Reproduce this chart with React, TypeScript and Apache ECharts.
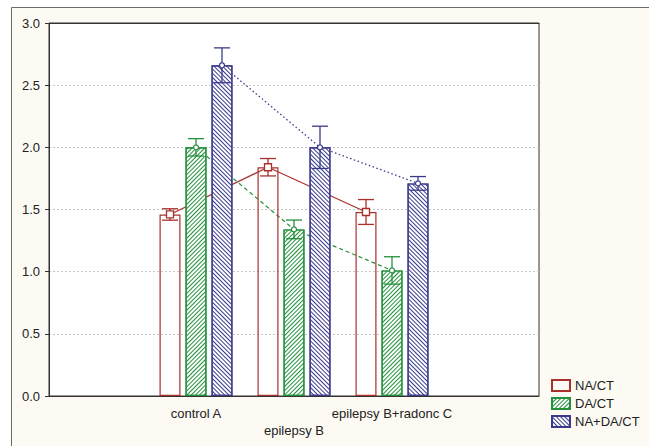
import React, { useEffect, useRef } from "react";
import * as echarts from "echarts";

const categories = ["", "control A", "epilepsy B", "epilepsy B+radonc C", ""];
const seriesNames = ["NA/CT", "DA/CT", "NA+DA/CT"];
const naMeans = [null, 1.46, 1.84, 1.48, null];
const naErrs = [null, 0.046, 0.07, 0.1, null];
const daMeans = [null, 2.0, 1.34, 1.01, null];
const daErrs = [null, 0.07, 0.075, 0.11, null];
const nadaMeans = [null, 2.66, 2.0, 1.71, null];
const nadaErrs = [null, 0.14, 0.17, 0.055, null];
const yTicks = [0, 0.5, 1.0, 1.5, 2.0, 2.5, 3.0];

const COLORS = ["#a8312c", "#23903c", "#3a3a8c"];
const BAR_W = 21;
const BAR_GAP = 5;
const FONT = "'Liberation Sans', Arial, sans-serif";

export default function App() {
  const ref = useRef<HTMLDivElement>(null);
  useEffect(() => {
    if (!ref.current) return;
    const chart = echarts.init(ref.current, null, { renderer: "svg" });
    const means = [naMeans, daMeans, nadaMeans];
    const errs = [naErrs, daErrs, nadaErrs];

    const barSeries = means.map((m, s) => ({
      type: "bar",
      name: seriesNames[s],
      data: m.map((v) => (v == null ? "-" : v)),
      barWidth: BAR_W,
      barGap: (BAR_GAP / BAR_W) * 100 + "%",
      z: 3,
      itemStyle:
        s === 0
          ? { color: "rgba(255,255,255,0)", borderColor: COLORS[0], borderWidth: 1.2 }
          : {
              color: "#ffffff",
              borderColor: COLORS[s],
              borderWidth: 1.2,
              decal: {
                symbol: "rect",
                symbolSize: 1,
                color: COLORS[s],
                dashArrayX: [1, 0],
                dashArrayY: [1, 1.5],
                rotation: s === 1 ? -Math.PI / 4 : Math.PI / 4,
              },
            },
    }));

    const lineStyles = [
      { lineDash: null, lineWidth: 1.2 },
      { lineDash: [4, 3], lineWidth: 1.2 },
      { lineDash: [1.5, 2.5], lineWidth: 1.3 },
    ];

    const lineSeries = means.map((m, s) => {
      const data: any[] = [];
      for (let i = 0; i < m.length - 1; i++) {
        if (m[i] != null && m[i + 1] != null) data.push([i, m[i], i + 1, m[i + 1]]);
      }
      return {
        type: "custom",
        name: seriesNames[s] + " line",
        z: 1,
        silent: true,
        clip: false,
        data,
        renderItem: (params: any, api: any) => {
          const off = (s - 1) * (BAR_W + BAR_GAP);
          const p1 = api.coord([api.value(0), api.value(1)]);
          const p2 = api.coord([api.value(2), api.value(3)]);
          return {
            type: "line",
            shape: { x1: p1[0] + off, y1: p1[1], x2: p2[0] + off, y2: p2[1] },
            style: {
              stroke: COLORS[s],
              lineWidth: lineStyles[s].lineWidth,
              lineDash: lineStyles[s].lineDash,
              fill: null,
            },
          };
        },
      };
    });

    const errSeries = means.map((m, s) => {
      const data: any[] = [];
      m.forEach((v, i) => {
        if (v != null) data.push([i, v, errs[s][i]]);
      });
      return {
        type: "custom",
        name: seriesNames[s] + " err",
        z: 5,
        silent: true,
        clip: false,
        data,
        renderItem: (params: any, api: any) => {
          const off = (s - 1) * (BAR_W + BAR_GAP);
          const cat = api.value(0);
          const mean = api.value(1);
          const err = api.value(2);
          const c = api.coord([cat, mean]);
          const x = c[0] + off;
          const yt = api.coord([cat, mean + err])[1];
          const yb = api.coord([cat, mean - err])[1];
          const hw = 8;
          const st = { stroke: COLORS[s], lineWidth: 1.3 };
          const children: any[] = [
            { type: "line", shape: { x1: x, y1: yt, x2: x, y2: yb }, style: st },
            { type: "line", shape: { x1: x - hw, y1: yt, x2: x + hw, y2: yt }, style: st },
            { type: "line", shape: { x1: x - hw, y1: yb, x2: x + hw, y2: yb }, style: st },
          ];
          if (s === 0) {
            children.push({
              type: "rect",
              shape: { x: x - 3.5, y: c[1] - 3.5, width: 7, height: 7 },
              style: { fill: "#fff", stroke: COLORS[s], lineWidth: 1.3 },
            });
          } else {
            children.push({
              type: "circle",
              shape: { cx: x, cy: c[1], r: 2.5 },
              style: { fill: "#fff", stroke: COLORS[s], lineWidth: 1.2 },
            });
          }
          return { type: "group", children };
        },
      };
    });

    chart.setOption({
      animation: false,
      backgroundColor: "#ffffff",
      textStyle: { fontFamily: FONT },
      graphic: [
        {
          type: "rect",
          z: -10,
          silent: true,
          shape: { x: 11.5, y: 7.5, width: 700, height: 500 },
          style: { fill: "#fcfaf3", stroke: "#6a6a6a", lineWidth: 1 },
        },
      ],
      grid: {
        left: 49,
        top: 23,
        right: 110,
        bottom: 50,
        show: true,
        backgroundColor: "#ffffff",
        borderColor: "#333",
        borderWidth: 1,
      },
      legend: {
        orient: "vertical",
        left: 546,
        top: 374,
        icon: "rect",
        itemWidth: 18,
        itemHeight: 11,
        itemGap: 5,
        data: seriesNames,
        textStyle: { fontSize: 13, color: "#222", fontFamily: FONT },
      },
      xAxis: [
        {
          type: "category",
          data: categories,
          position: "bottom",
          axisLine: { lineStyle: { color: "#333" } },
          axisTick: { inside: true, alignWithLabel: true, length: 4, lineStyle: { color: "#333" } },
          axisLabel: {
            interval: 0,
            margin: 9,
            fontSize: 13,
            lineHeight: 17,
            color: "#222",
            fontFamily: FONT,
            formatter: (v: string, i: number) => (i === 2 ? "\n" + v : v),
          },
        },
        {
          type: "category",
          data: categories,
          position: "top",
          axisLine: { lineStyle: { color: "#333" } },
          axisTick: { inside: true, alignWithLabel: true, length: 4, lineStyle: { color: "#333" } },
          axisLabel: { show: false },
        },
      ],
      yAxis: {
        type: "value",
        min: yTicks[0],
        max: yTicks[yTicks.length - 1],
        interval: 0.5,
        axisLine: { show: true, lineStyle: { color: "#333" } },
        axisTick: { show: true, length: 4, lineStyle: { color: "#333" } },
        axisLabel: {
          margin: 9,
          fontSize: 13,
          color: "#222",
          fontFamily: FONT,
          formatter: (v: number) => v.toFixed(1),
        },
        splitLine: { show: true, lineStyle: { color: "#c4c4c4", type: [2, 2] } },
      },
      series: [...lineSeries, ...barSeries, ...errSeries],
    });
    return () => chart.dispose();
  }, []);
  return <div ref={ref} style={{ position: "absolute", left: 0, top: 0, width: 649, height: 446 }} />;
}
